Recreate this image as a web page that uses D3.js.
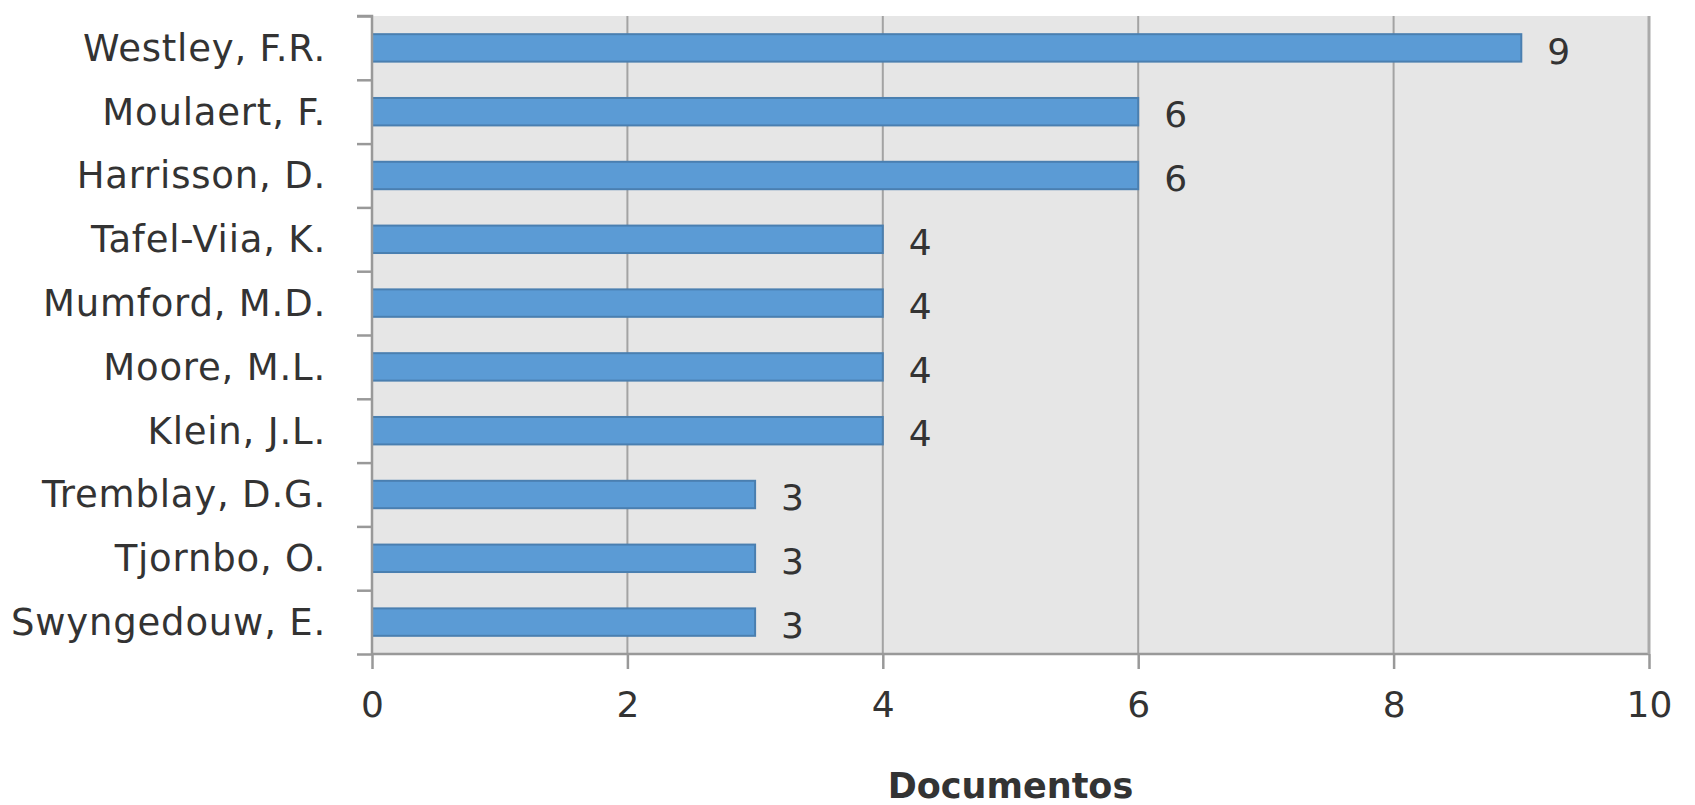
<!DOCTYPE html>
<html>
<head>
<meta charset="utf-8">
<script src="https://cdn.jsdelivr.net/npm/d3@7"></script>
<style>
  body { margin: 0; background: #fff; }
  svg { display: block; }
  text { font-family: "DejaVu Sans", sans-serif; fill: #333; }
</style>
</head>
<body>
<svg></svg>
<script>
const authors = ["Westley, F.R.", "Moulaert, F.", "Harrisson, D.", "Tafel-Viia, K.", "Mumford, M.D.",
  "Moore, M.L.", "Klein, J.L.", "Tremblay, D.G.", "Tjornbo, O.", "Swyngedouw, E."];
const docs = [9, 6, 6, 4, 4, 4, 4, 3, 3, 3];
const xTicks = [0, 2, 4, 6, 8, 10];
const xTitle = "Documentos";

const width = 1695, height = 805;
const margin = { top: 16, right: 46, bottom: 151, left: 372 };

const svg = d3.select("svg").attr("width", width).attr("height", height);

const x = d3.scaleLinear().domain([0, 10]).range([margin.left, width - margin.right]);
const y = d3.scaleBand().domain(authors)
  .range([margin.top, height - margin.bottom])
  .paddingInner(0.57).paddingOuter(0.285);

// plot background
svg.append("rect")
  .attr("x", x(0)).attr("y", margin.top)
  .attr("width", x(10) - x(0)).attr("height", height - margin.bottom - margin.top)
  .attr("fill", "#e6e6e6");

// vertical gridlines
svg.append("g")
  .selectAll("line")
  .data(xTicks.slice(1))
  .join("line")
  .attr("x1", d => x(d)).attr("x2", d => x(d))
  .attr("y1", margin.top).attr("y2", height - margin.bottom)
  .attr("stroke", "#a3a3a3")
  .attr("stroke-width", 2);

// bars
svg.append("g")
  .selectAll("rect")
  .data(authors)
  .join("rect")
  .attr("x", x(0))
  .attr("y", d => y(d))
  .attr("width", (d, i) => x(docs[i]) - x(0))
  .attr("height", y.bandwidth())
  .attr("fill", "#5b9bd5")
  .attr("stroke", "#4a7fb0")
  .attr("stroke-width", 2);

// value labels
svg.append("g")
  .selectAll("text")
  .data(authors)
  .join("text")
  .attr("x", (d, i) => x(docs[i]) + 26)
  .attr("y", d => y(d) + y.bandwidth() / 2 + 3)
  .attr("dy", "0.35em")
  .style("font-size", "36px")
  .text((d, i) => docs[i]);

// y axis
const yAxis = d3.axisLeft(d3.scalePoint().domain(d3.range(authors.length + 1))
  .range([margin.top, height - margin.bottom]))
  .tickSize(15).tickFormat("");
const gy = svg.append("g").attr("transform", `translate(${x(0)},0)`).call(yAxis);
gy.selectAll("line, path").attr("stroke", "#999").attr("stroke-width", 2.5);
gy.select(".domain").attr("d", `M-15,${margin.top}H0V${height - margin.bottom}`);

svg.append("g")
  .selectAll("text")
  .data(authors)
  .join("text")
  .attr("x", 326)
  .attr("y", d => y(d) + y.bandwidth() / 2)
  .attr("dy", "0.35em")
  .attr("text-anchor", "end")
  .style("font-size", "37px")
  .style("letter-spacing", "0.8px")
  .text(d => d);

// x axis
const gx = svg.append("g")
  .attr("transform", `translate(0,${height - margin.bottom})`)
  .call(d3.axisBottom(x).tickValues(xTicks).tickSize(15).tickPadding(22));
gx.selectAll("line, path").attr("stroke", "#999").attr("stroke-width", 2.5);
gx.select(".domain").attr("d", `M${x(0)},0H${x(10)}`);
gx.selectAll("text").style("font-size", "36px").attr("fill", "#333")
  .style("font-family", "'DejaVu Sans', sans-serif");

// right border
svg.append("line")
  .attr("x1", x(10)).attr("x2", x(10))
  .attr("y1", margin.top).attr("y2", height - margin.bottom)
  .attr("stroke", "#aaa").attr("stroke-width", 3);

svg.append("text")
  .attr("x", (x(0) + x(10)) / 2)
  .attr("y", 798)
  .attr("text-anchor", "middle")
  .style("font-size", "35px")
  .style("font-weight", "bold")
  .text(xTitle);
</script>
</body>
</html>
